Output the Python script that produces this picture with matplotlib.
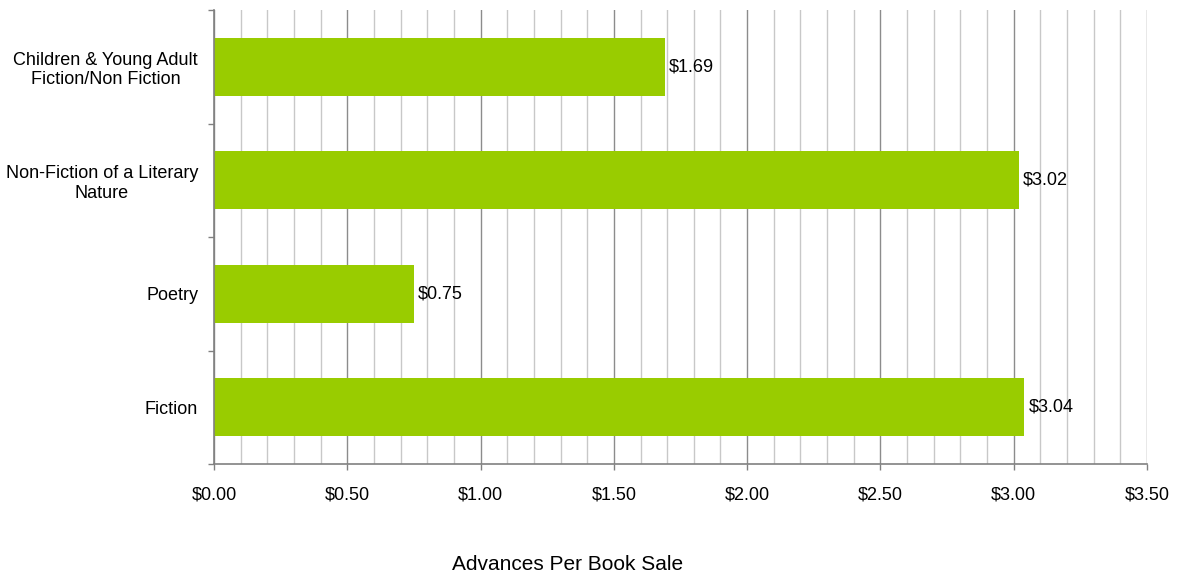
import matplotlib
matplotlib.use("Agg")
import matplotlib.pyplot as plt
from matplotlib.ticker import MultipleLocator, FuncFormatter, FixedLocator

plt.rcParams['font.family'] = ['Liberation Sans', 'DejaVu Sans']

categories = ["Fiction", "Poetry", "Non-Fiction of a Literary\nNature",
              "Children & Young Adult\nFiction/Non Fiction"]
values = [3.04, 0.75, 3.02, 1.69]
x_label = "Advances Per Book Sale"

fig = plt.figure(figsize=(11.81, 5.74), dpi=100)
ax = fig.add_axes([214 / 1181, 110 / 574, 933 / 1181, 454 / 574])

ypos = list(range(len(categories)))
ax.barh(ypos, values, height=0.51, color="#99CC00", zorder=3)

for y, v in zip(ypos, values):
    ax.text(v + 0.015, y, f"${v:.2f}", va="center", ha="left", fontsize=13, zorder=4)

ax.set_xlim(0, 3.5)
ax.set_ylim(-0.5, len(categories) - 0.5)

ax.xaxis.set_major_locator(MultipleLocator(0.5))
ax.xaxis.set_minor_locator(MultipleLocator(0.1))
ax.xaxis.set_major_formatter(FuncFormatter(lambda v, p: f"${v:.2f}"))
ax.grid(axis="x", which="major", color="#8c8c8c", linewidth=1.0, zorder=0)
ax.grid(axis="x", which="minor", color="#c8c8c8", linewidth=1.0, zorder=0)

ax.set_yticks(ypos)
ax.set_yticklabels(categories, fontsize=13, ha="right", multialignment="center",
                   linespacing=1.2)
ax.yaxis.set_minor_locator(FixedLocator([i - 0.5 for i in range(len(categories) + 1)]))

ax.tick_params(axis="y", which="major", length=0, pad=11.5)
ax.tick_params(axis="y", which="minor", length=4, color="#808080", width=1)
ax.tick_params(axis="x", which="major", length=4, color="#808080", width=1, pad=12, labelsize=13)
ax.tick_params(axis="x", which="minor", length=0)

for s in ["top", "right"]:
    ax.spines[s].set_visible(False)
for s in ["left", "bottom"]:
    ax.spines[s].set_color("#808080")
    ax.spines[s].set_linewidth(1.2)
    ax.spines[s].set_zorder(5)

fig.text(567.5 / 1181, 1 - 565 / 574, x_label, ha="center", va="center", fontsize=15)

fig.savefig("out.png", dpi=100, facecolor="white")
